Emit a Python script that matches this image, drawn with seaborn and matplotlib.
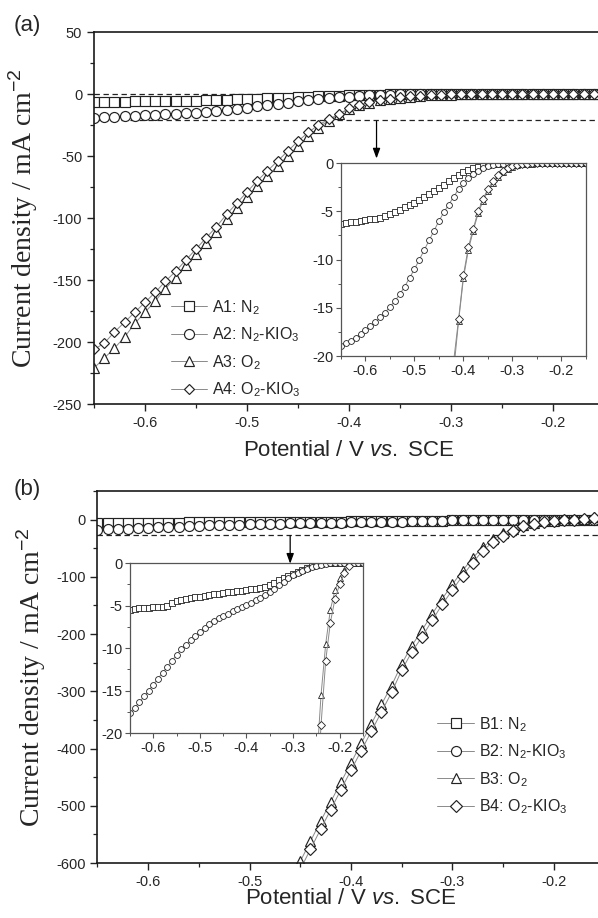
import numpy as np
import pandas as pd
import matplotlib
matplotlib.use("Agg")
import matplotlib.pyplot as plt
from matplotlib.ticker import MultipleLocator
import seaborn as sns

# potential grid (V vs. SCE), one point every 10 mV
potential = np.round(np.linspace(-0.65, -0.15, 51), 2)

# panel (a) - current density, mA cm-2
a1_n2 = [-6.3, -6.2, -6.15, -6.1, -6.0, -5.95, -5.85, -5.75, -5.65, -5.45,
         -5.25, -5.05, -4.85, -4.6, -4.35, -4.1, -3.8, -3.5, -3.2, -2.9,
         -2.6, -2.25, -1.9, -1.5, -1.2, -0.9, -0.7, -0.5, -0.4, -0.3,
         -0.2, -0.1, -0.05, 0, 0, 0, 0, 0, 0, 0,
         0, 0, 0, 0, 0, 0, 0, 0, 0, 0, 0]
a2_n2_kio3 = [-19.0, -18.7, -18.4, -18.1, -17.7, -17.3, -16.9, -16.5, -16.0, -15.5,
              -14.9, -14.3, -13.6, -12.8, -11.9, -11.0, -10.0, -9.0, -8.0, -7.0,
              -6.0, -5.1, -4.3, -3.5, -2.7, -2.1, -1.6, -1.1, -0.8, -0.5,
              -0.35, -0.2, -0.1, -0.05, 0, 0, 0, 0, 0, 0,
              0, 0, 0, 0, 0, 0, 0, 0, 0, 0, 0]
a3_o2 = [-221, -213, -205, -196, -185, -176, -167, -157, -148, -138,
         -129, -120, -111, -101, -92, -83, -74, -66, -58, -50,
         -42, -34, -27, -21.5, -16.4, -11.9, -9.0, -7.0, -5.2, -3.9,
         -2.9, -2.1, -1.4, -0.9, -0.6, -0.4, -0.25, -0.15, -0.1, -0.05,
         0, 0, 0, 0, 0, 0, 0, 0, 0, 0, 0]
a4_o2_kio3 = [-206, -201, -192, -184, -176, -168, -160, -151, -143, -134,
              -125, -116, -107, -97, -88, -79, -70, -62, -54, -46,
              -38, -31, -25, -20.5, -16.2, -11.6, -8.7, -6.8, -5.0, -3.7,
              -2.7, -1.9, -1.2, -0.8, -0.5, -0.35, -0.2, -0.1, -0.05, 0,
              0, 0, 0, 0, 0, 0, 0, 0, 0, 0, 0]

# panel (b)
b1_n2 = [-5.5, -5.4, -5.35, -5.3, -5.25, -5.2, -5.2, -5.15, -5.0, -4.7,
         -4.5, -4.35, -4.25, -4.15, -4.05, -3.95, -3.85, -3.75, -3.7, -3.6,
         -3.55, -3.45, -3.4, -3.35, -3.25, -3.2, -3.1, -3.0, -2.9, -2.8,
         -2.6, -2.35, -2.05, -1.8, -1.55, -1.3, -1.05, -0.8, -0.6, -0.4,
         -0.25, -0.1, -0.05, 0, 0, 0, 0, 0, 0, 0, 0]
b2_n2_kio3 = [-17.6, -17.0, -16.4, -15.7, -15.0, -14.3, -13.6, -12.9, -12.2, -11.5,
              -10.8, -10.1, -9.6, -9.1, -8.6, -8.1, -7.6, -7.2, -6.85, -6.5,
              -6.2, -5.95, -5.7, -5.45, -5.2, -4.95, -4.7, -4.4, -4.1, -3.75,
              -3.4, -3.0, -2.6, -2.2, -1.8, -1.45, -1.15, -0.9, -0.7, -0.5,
              -0.35, -0.2, -0.1, -0.05, 0, 0, 0, 0, 0, 0, 0]
nan = np.nan
b3_o2 = [nan] * 20 + [-597, -562, -527, -493, -459, -425, -391, -357, -323, -290,
                      -252, -220, -193, -165, -138, -113, -89, -67, -48, -34,
                      -24, -15.5, -9.5, -5.5, -3.2, -1.8, -0.8, -0.1, 1.5, 4, 7]
b4_o2_kio3 = [nan] * 20 + [-611, -576, -541, -507, -472, -438, -404, -370, -336, -302,
                           -263, -231, -205, -176, -148, -123, -98, -75, -54, -39,
                           -29, -19, -11.5, -7.0, -4.2, -2.5, -1.2, -0.3, 0.5, 3, 6]

labels_a = ["A1: N$_2$", "A2: N$_2$-KIO$_3$", "A3: O$_2$", "A4: O$_2$-KIO$_3$"]
labels_b = ["B1: N$_2$", "B2: N$_2$-KIO$_3$", "B3: O$_2$", "B4: O$_2$-KIO$_3$"]

sns.set_style("ticks")
plt.rcParams["font.family"] = ["Liberation Sans", "DejaVu Sans"]
plt.rcParams["axes.unicode_minus"] = False
plt.rcParams["mathtext.fontset"] = "custom"
plt.rcParams["mathtext.rm"] = "Liberation Sans"
plt.rcParams["mathtext.it"] = "Liberation Sans:italic"

line_grey = "#8a8a8a"
edge = "#222222"
markers = ["s", "o", "^", "D"]


def draw(ax, values, marker, size, mew=0.85):
    sns.lineplot(x=potential, y=values, ax=ax, color=line_grey, marker=marker,
                 markersize=size, markerfacecolor="white", markeredgecolor=edge,
                 markeredgewidth=mew, linewidth=0.7, errorbar=None, legend=False)
    return ax.lines[-1]


def style_main(ax, ymajor, yminor):
    ax.xaxis.set_major_locator(MultipleLocator(0.1))
    ax.xaxis.set_minor_locator(MultipleLocator(0.05))
    ax.yaxis.set_major_locator(MultipleLocator(ymajor))
    ax.yaxis.set_minor_locator(MultipleLocator(yminor))
    ax.tick_params(which="major", direction="out", length=5, width=1.0,
                   labelsize=10.5, pad=3.5, color="#222222")
    ax.tick_params(which="minor", direction="out", length=3, width=0.9,
                   color="#222222")
    for s in ax.spines.values():
        s.set_linewidth(1.2)
        s.set_color("#1a1a1a")


def style_inset(ax):
    ax.set_xlim(-0.65, -0.15)
    ax.set_ylim(-20, 0)
    ax.xaxis.set_major_locator(MultipleLocator(0.1))
    ax.xaxis.set_minor_locator(MultipleLocator(0.05))
    ax.yaxis.set_major_locator(MultipleLocator(5))
    ax.yaxis.set_minor_locator(MultipleLocator(2.5))
    ax.tick_params(which="major", direction="out", length=3.5, width=0.8,
                   labelsize=10.5, pad=2, color="#555555")
    ax.tick_params(which="minor", direction="out", length=2, width=0.7,
                   color="#555555")
    ax.set_xlabel("")
    ax.set_ylabel("")
    for s in ax.spines.values():
        s.set_linewidth(0.9)
        s.set_color("#555555")


fig = plt.figure(figsize=(5.98, 9.18), dpi=100)

# ---------- panel (a)
ax_a = fig.add_axes([0.1572, 0.5599, 0.8528, 0.4052])
series_a = [a1_n2, a2_n2_kio3, a3_o2, a4_o2_kio3]
sizes_a = [6.5, 7.2, 7.2, 5.6]
handles_a = [draw(ax_a, v, m, s) for v, m, s in zip(series_a, markers, sizes_a)]
ax_a.axhline(0, color="#222222", lw=0.9, dashes=(4.3, 2.9), zorder=1)
ax_a.axhline(-21, color="#222222", lw=0.9, dashes=(4.3, 2.9), zorder=1)
ax_a.annotate("", xy=(-0.373, -52), xytext=(-0.373, -22),
              arrowprops=dict(arrowstyle="-|>,head_length=0.6,head_width=0.22",
                              color="black", lw=0.9, shrinkA=0, shrinkB=0))
ax_a.set_xlim(-0.65, -0.15)
ax_a.set_ylim(-250, 50)
style_main(ax_a, 50, 25)
ax_a.set_xlabel("Potential / V $\\mathit{vs.}$ SCE", fontsize=16)
ax_a.set_ylabel("Current density / mA cm$^{-2}$", fontsize=20,
                family=["Liberation Serif", "DejaVu Serif"])
ax_a.yaxis.set_label_coords(-0.106, 0.5)
ax_a.xaxis.set_label_coords(0.5, -0.097)
ax_a.legend(handles_a, labels_a, loc="upper left", bbox_to_anchor=(0.15, 0.285),
            frameon=False, fontsize=11.5, borderpad=0, borderaxespad=0,
            handlelength=2.3, handletextpad=0.3, labelspacing=0.55)

ins_a = fig.add_axes([0.5702, 0.6122, 0.4097, 0.2102])
ins_sizes_a = [3.8, 4.2, 5.0, 3.8]
for v, m, s in zip(series_a, markers, ins_sizes_a):
    draw(ins_a, v, m, s, mew=0.6)
style_inset(ins_a)

# ---------- panel (b)
ax_b = fig.add_axes([0.163, 0.0599, 0.848, 0.4052])
series_b = [b1_n2, b2_n2_kio3, b3_o2, b4_o2_kio3]
sizes_b = [6.5, 7.2, 7.2, 6.2]
handles_b = [draw(ax_b, v, m, s) for v, m, s in zip(series_b, markers, sizes_b)]
ax_b.axhline(0, color="#222222", lw=0.9, dashes=(4.3, 2.9), zorder=1)
ax_b.axhline(-27, color="#222222", lw=0.9, dashes=(4.3, 2.9), zorder=1)
ax_b.annotate("", xy=(-0.46, -77), xytext=(-0.46, -28),
              arrowprops=dict(arrowstyle="-|>,head_length=0.6,head_width=0.22",
                              color="black", lw=0.9, shrinkA=0, shrinkB=0))
ax_b.set_xlim(-0.65, -0.15)
ax_b.set_ylim(-600, 50)
style_main(ax_b, 100, 50)
ax_b.set_xlabel("Potential / V $\\mathit{vs.}$ SCE", fontsize=16)
ax_b.set_ylabel("Current density / mA cm$^{-2}$", fontsize=20,
                family=["Liberation Serif", "DejaVu Serif"])
ax_b.yaxis.set_label_coords(-0.098, 0.5)
ax_b.xaxis.set_label_coords(0.5, -0.067)
ax_b.legend(handles_b, labels_b, loc="upper left", bbox_to_anchor=(0.67, 0.398),
            frameon=False, fontsize=11.5, borderpad=0, borderaxespad=0,
            handlelength=2.3, handletextpad=0.3, labelspacing=0.55)

ins_b = fig.add_axes([0.2174, 0.2015, 0.3896, 0.1852])
ins_sizes_b = [3.8, 4.2, 4.5, 4.0]
for v, m, s in zip(series_b, markers, ins_sizes_b):
    draw(ins_b, v, m, s, mew=0.6)
style_inset(ins_b)

fig.text(0.045, 1 - 26 / 918, "(a)", ha="center", va="center", fontsize=16)
fig.text(0.045, 1 - 489 / 918, "(b)", ha="center", va="center", fontsize=16)

fig.savefig("out.png", dpi=100, facecolor="white")
